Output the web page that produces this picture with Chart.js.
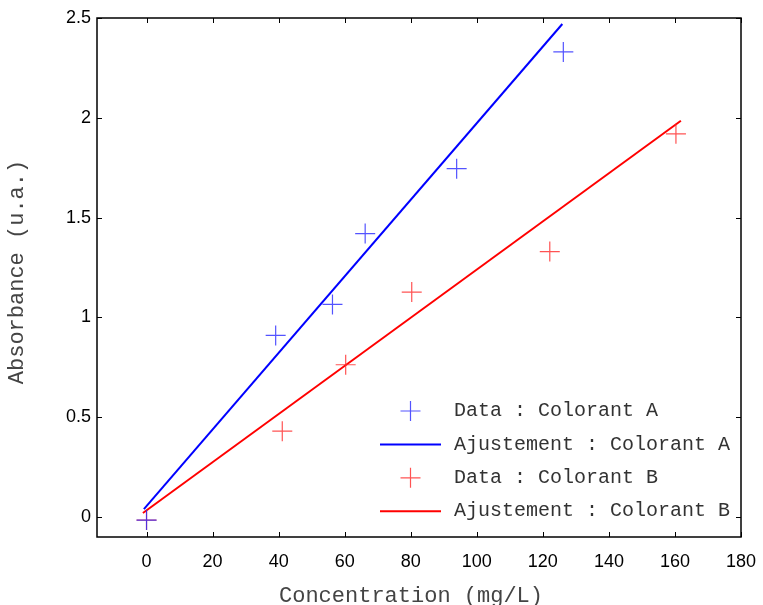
<!DOCTYPE html>
<html>
<head>
<meta charset="utf-8">
<script src="https://cdn.jsdelivr.net/npm/chart.js@4.4.1/dist/chart.umd.min.js"></script>
<style>
  html, body { margin: 0; padding: 0; background: #fff; }
  canvas { display: block; }
</style>
</head>
<body>
<canvas id="absChart" width="763" height="605"></canvas>
<script>
// ── Absorbance vs concentration, two dyes with linear fits ──────────────────
const concA = [0, 39.1, 56.3, 66.2, 93.9, 126.2];
const absA  = [-0.015, 0.91, 1.065, 1.42, 1.745, 2.33];
const concB = [0, 41.1, 60.3, 80.3, 122.1, 160.3];
const absB  = [-0.015, 0.43, 0.763, 1.127, 1.33, 1.92];

// fitted lines (endpoints)
const fitConcA = [-0.8, 125.9];
const fitAbsA  = [0.04, 2.47];
const fitConcB = [-1.1, 161.8];
const fitAbsB  = [0.02, 1.985];

const xTicks = [0, 20, 40, 60, 80, 100, 120, 140, 160, 180];
const yTicks = [0, 0.5, 1, 1.5, 2, 2.5];

const labels = ['Data : Colorant A', 'Ajustement : Colorant A', 'Data : Colorant B', 'Ajustement : Colorant B'];
const xTitle = 'Concentration (mg/L)';
const yTitle = 'Absorbance (u.a.)';

const zip = (xs, ys) => xs.map((x, i) => ({ x, y: ys[i] }));

// Frame, inward ticks on all four sides, axis titles and the boxless legend
const framePlugin = {
  id: 'frame',
  afterDraw(chart, args, opts) {
    const { ctx, chartArea: a, scales: { x, y } } = chart;
    const tl = 5;
    ctx.save();
    ctx.strokeStyle = '#000';
    ctx.lineWidth = 1;
    ctx.beginPath();
    xTicks.forEach(v => {
      const px = Math.round(x.getPixelForValue(v)) + 0.5;
      ctx.moveTo(px, a.bottom); ctx.lineTo(px, a.bottom - tl);
      ctx.moveTo(px, a.top);    ctx.lineTo(px, a.top + tl);
    });
    yTicks.forEach(v => {
      const py = Math.round(y.getPixelForValue(v)) + 0.5;
      ctx.moveTo(a.left, py);  ctx.lineTo(a.left + tl, py);
      ctx.moveTo(a.right, py); ctx.lineTo(a.right - tl, py);
    });
    ctx.stroke();
    ctx.lineWidth = 1.5;
    ctx.strokeRect(a.left, a.top, a.right - a.left, a.bottom - a.top);

    // axis titles
    ctx.font = '22px "Liberation Mono", monospace';
    ctx.fillStyle = '#444';
    ctx.textAlign = 'center';
    ctx.textBaseline = 'middle';
    ctx.fillText(xTitle, opts.xTitleX, opts.xTitleY);
    ctx.translate(opts.yTitleX, opts.yTitleY);
    ctx.rotate(-Math.PI / 2);
    ctx.fillText(yTitle, 0, 0);
    ctx.restore();
  },
  afterDatasetsDraw(chart, args, opts) {
    const { ctx } = chart;
    ctx.save();
    ctx.font = '20px "Liberation Mono", monospace';
    ctx.textBaseline = 'middle';
    chart.data.datasets.forEach((ds, i) => {
      const yy = opts.top + i * opts.rowGap;
      if (ds.showLine) {
        ctx.strokeStyle = ds.borderColor;
        ctx.lineWidth = ds.borderWidth;
        ctx.beginPath();
        ctx.moveTo(opts.lineX0, yy); ctx.lineTo(opts.lineX1, yy);
        ctx.stroke();
      } else {
        const cx = (opts.lineX0 + opts.lineX1) / 2, r = ds.pointRadius;
        ctx.strokeStyle = ds.pointBorderColor;
        ctx.lineWidth = ds.pointBorderWidth;
        ctx.beginPath();
        ctx.moveTo(cx - r, yy); ctx.lineTo(cx + r, yy);
        ctx.moveTo(cx, yy - r); ctx.lineTo(cx, yy + r);
        ctx.stroke();
      }
      ctx.fillStyle = '#333';
      ctx.fillText(ds.label, opts.textX, yy);
    });
    ctx.restore();
  },
};

const pointSet = (label, data, color) => ({
  label, data, showLine: false,
  pointStyle: 'cross', pointRadius: 10, pointHoverRadius: 10,
  pointBorderColor: color, pointBorderWidth: 1.2, borderColor: color,
});
const fitSet = (label, data, color) => ({
  label, data, showLine: true, pointRadius: 0,
  borderColor: color, borderWidth: 2, fill: false,
});

new Chart(document.getElementById('absChart'), {
  type: 'scatter',
  data: {
    datasets: [
      pointSet(labels[0], zip(concA, absA), 'rgba(40,40,255,0.8)'),
      fitSet(labels[1], zip(fitConcA, fitAbsA), '#0000ff'),
      pointSet(labels[2], zip(concB, absB), 'rgba(255,40,40,0.8)'),
      fitSet(labels[3], zip(fitConcB, fitAbsB), '#ff0000'),
    ],
  },
  plugins: [framePlugin],
  options: {
    responsive: false,
    animation: false,
    events: [],
    layout: { padding: { top: 18, right: 22, left: 0, bottom: 0 } },
    plugins: {
      legend: { display: false },
      tooltip: { enabled: false },
      frame: {
        top: 411, rowGap: 33.4, lineX0: 380, lineX1: 441, textX: 454,
        xTitleX: 411, xTitleY: 596, yTitleX: 17, yTitleY: 272,
      },
    },
    scales: {
      x: {
        type: 'linear', min: -15, max: 180,
        afterBuildTicks: s => { s.ticks = xTicks.map(v => ({ value: v })); },
        afterFit: s => { s.height = 68; s.paddingLeft = 0; s.paddingRight = 0; },
        grid: { display: false, drawTicks: false },
        border: { display: false },
        ticks: { padding: 14, color: '#000', font: { family: '"Liberation Sans", Arial, sans-serif', size: 18 }, maxRotation: 0 },
      },
      y: {
        type: 'linear', min: -0.1, max: 2.5,
        afterBuildTicks: s => { s.ticks = yTicks.map(v => ({ value: v })); },
        afterFit: s => { s.width = 97; s.paddingTop = 0; s.paddingBottom = 0; },
        grid: { display: false, drawTicks: false },
        border: { display: false },
        ticks: { padding: 6, color: '#000', font: { family: '"Liberation Sans", Arial, sans-serif', size: 18 }, callback: v => String(v) },
      },
    },
  },
});
</script>
</body>
</html>
